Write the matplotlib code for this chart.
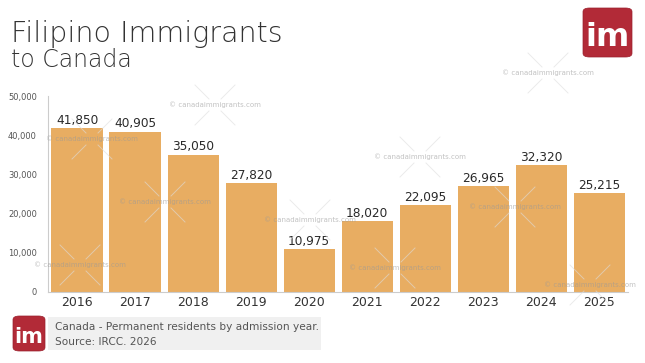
import matplotlib.pyplot as plt
from matplotlib.patches import FancyBboxPatch, Rectangle

# data
years = ['2016', '2017', '2018', '2019', '2020', '2021', '2022', '2023', '2024', '2025']
values = [41850, 40905, 35050, 27820, 10975, 18020, 22095, 26965, 32320, 25215]
yticks = [0, 10000, 20000, 30000, 40000, 50000]

bar_color = '#E8AD62'
wm_text = '\u00a9 canadaimmigrants.com'

fig = plt.figure(figsize=(6.45, 3.63), dpi=100)
fig.patch.set_facecolor('white')

ax = fig.add_axes([0.0744, 0.1956, 0.8996, 0.5399])
x = range(len(years))
bars = ax.bar(x, values, width=0.88, color=bar_color, zorder=2)
ax.set_xlim(-0.5, len(years) - 0.5)
ax.set_ylim(0, 50000)
ax.set_yticks(yticks)
ax.set_yticklabels([f'{v:,}' for v in yticks], fontsize=6, color='#555555')
ax.set_xticks(list(x))
ax.set_xticklabels(years, fontsize=9, color='#333333')
ax.tick_params(axis='both', length=0, pad=3)
ax.tick_params(axis='y', pad=8)
for s in ['top', 'right']:
    ax.spines[s].set_visible(False)
for s in ['left', 'bottom']:
    ax.spines[s].set_color('#cccccc')
    ax.spines[s].set_linewidth(0.8)

for i, v in enumerate(values):
    ax.text(i, v + 300, f'{v:,}', ha='center', va='bottom', fontsize=8.7, color='#2a2a2a', zorder=4)

# titles
fig.text(0.017, 0.885, 'Filipino Immigrants', fontsize=20.5, color='#333333', fontweight='light')
fig.text(0.017, 0.815, 'to Canada', fontsize=17, color='#333333', fontweight='light')

# watermarks
wm_pos = [(215, 105), (92, 139), (548, 73), (420, 157), (165, 202), (310, 220),
          (515, 207), (80, 265), (395, 268), (590, 285)]
for px, py in wm_pos:
    fx, fy = px / 645, 1 - py / 363
    fig.text(fx, fy, wm_text, fontsize=5, color='#999999', alpha=0.6, ha='center', va='center', zorder=5)
    for dx, dy in [(-1, 1), (1, 1), (-1, -1), (1, -1)]:
        fig.add_artist(plt.Line2D([fx + dx * 6 / 645, fx + dx * 20 / 645],
                                  [fy + dy * 6 / 363, fy + dy * 20 / 363],
                                  color='#dddddd', lw=0.7, alpha=0.6, zorder=5))

# logo
def logo(fx, fy, w, h, fs):
    fig.add_artist(FancyBboxPatch((fx, fy), w, h, boxstyle='round,pad=0,rounding_size=0.01',
                                  transform=fig.transFigure, facecolor='#B22A37',
                                  edgecolor='#9a1f2c', lw=0.5, zorder=6))
    fig.text(fx + w / 2, fy + h * 0.40, 'im', fontsize=fs, color='white', fontweight='bold',
             ha='center', va='center', zorder=7)

logo(583 / 645, 1 - 57 / 363, 49 / 645, 49 / 363, 23)

# footer
fig.add_artist(Rectangle((48 / 645, 1 - 350 / 363), 273 / 645, 33 / 363,
                         transform=fig.transFigure, facecolor='#f0f0f0', edgecolor='none', zorder=1))
logo(13 / 645, 1 - 351 / 363, 32 / 645, 35 / 363, 15)
fig.text(55 / 645, 1 - 327 / 363, 'Canada - Permanent residents by admission year.',
         fontsize=7.6, color='#555555', va='center')
fig.text(55 / 645, 1 - 342 / 363, 'Source: IRCC. 2026', fontsize=7.6, color='#555555', va='center')

fig.savefig('out.png', dpi=100)
